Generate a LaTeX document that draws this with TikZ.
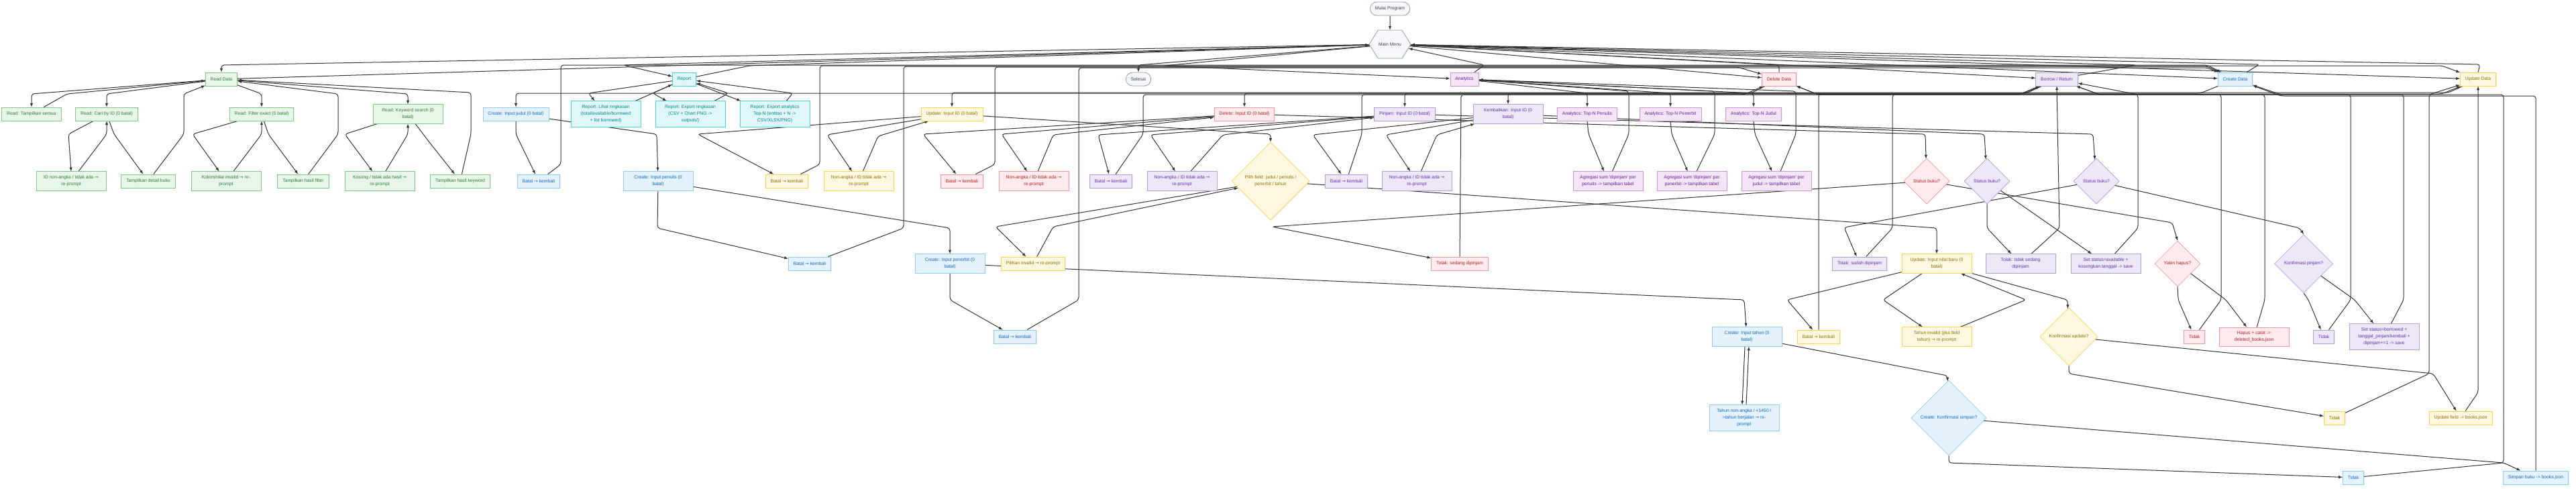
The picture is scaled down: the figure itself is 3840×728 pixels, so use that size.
\documentclass[tikz,border=0pt]{standalone}
\usepackage{fontspec}
\setmainfont{Liberation Sans}[Ligatures=TeXOff]
\newfontfamily\arrowfont{DejaVu Sans}
\usepackage{tikz}
\usetikzlibrary{arrows,shapes.geometric,shapes.symbols,shadows,backgrounds}

\definecolor{edgecol}{HTML}{333333}
\definecolor{grnfill}{HTML}{E8F5E9}\definecolor{grnline}{HTML}{81C784}\definecolor{grntext}{HTML}{2E7D32}
\definecolor{cynfill}{HTML}{E0F7FA}\definecolor{cynline}{HTML}{4DD0E1}\definecolor{cyntext}{HTML}{00838F}
\definecolor{blufill}{HTML}{E3F2FD}\definecolor{bluline}{HTML}{90CAF9}\definecolor{blutext}{HTML}{1565C0}
\definecolor{ylwfill}{HTML}{FFF8E1}\definecolor{ylwline}{HTML}{FFD54F}\definecolor{ylwtext}{HTML}{8D6E00}
\definecolor{redfill}{HTML}{FFEBEE}\definecolor{redline}{HTML}{EF9A9A}\definecolor{redtext}{HTML}{B71C1C}
\definecolor{prpfill}{HTML}{EDE7F6}\definecolor{prpline}{HTML}{B39DDB}\definecolor{prptext}{HTML}{5E35B1}
\definecolor{anafill}{HTML}{F3E5F5}\definecolor{analine}{HTML}{CE93D8}\definecolor{anatext}{HTML}{6A1B9A}
\definecolor{gryfill}{HTML}{F5F7FA}\definecolor{gryline}{HTML}{90A4AE}\definecolor{grytext}{HTML}{37474F}

\newcommand{\boxfont}{\fontsize{6.8}{10}\selectfont}
\newcommand{\toarr}{{\arrowfont →}}

\tikzset{
  box/.style={rectangle,draw,line width=0.8pt,font=\boxfont,align=center,
    inner xsep=7.5pt,inner ysep=6pt,minimum height=20pt,
    drop shadow={shadow xshift=1.2pt,shadow yshift=-1.2pt,opacity=0.12}},
  wide/.style={minimum width=104pt},
  choice/.style={diamond,aspect=1,draw,line width=0.6pt,font=\boxfont,align=center,
    inner sep=0pt,minimum width=#1,minimum height=#1,
    drop shadow={shadow xshift=1.2pt,shadow yshift=-1.2pt,opacity=0.12}},
  term/.style={box,rounded corners=10pt,fill=gryfill,draw=gryline,text=grytext},
  menu/.style={signal,signal to=west and east,signal pointer angle=116,draw,line width=0.8pt,
    fill=gryfill,draw=gryline,text=grytext,font=\boxfont,inner sep=0pt,
    minimum width=62pt,minimum height=42pt,
    drop shadow={shadow xshift=1.2pt,shadow yshift=-1.2pt,opacity=0.12}},
  readbox/.style={fill=grnfill,draw=grnline,text=grntext},
  repbox/.style={fill=cynfill,draw=cynline,text=cyntext},
  crbox/.style={fill=blufill,draw=bluline,text=blutext},
  upbox/.style={fill=ylwfill,draw=ylwline,text=ylwtext},
  delbox/.style={fill=redfill,draw=redline,text=redtext},
  borbox/.style={fill=prpfill,draw=prpline,text=prptext},
  anabox/.style={fill=anafill,draw=analine,text=anatext},
  flow/.style={draw=edgecol,line width=1pt,rounded corners=4pt}
}

\begin{document}
\begin{tikzpicture}[->,>=latex,x=1pt,y=-1pt]
  \useasboundingbox (0,0) rectangle (3840,728);
  \node[term] (start) at (2072,13) {Mulai Program};
  \node[menu] (mm) at (2072,66) {Main Menu};
  \node[term] (selesai) at (1697,118) {Selesai};

  \node[box,readbox] (read) at (330,118) {Read Data};
  \node[box,repbox] (report) at (1020,118) {Report};
  \node[box,anabox] (analytics) at (2183,118) {Analytics};
  \node[box,delbox] (delete) at (2652,118) {Delete Data};
  \node[box,borbox] (borrow) at (3066,118) {Borrow / Return};
  \node[box,crbox] (create) at (3332,118) {Create Data};
  \node[box,upbox] (update) at (3694,118) {Update Data};

  \node[box,readbox] (rAll) at (47,170) {Read: Tampilkan semua};
  \node[box,readbox] (rId) at (159,170) {Read: Cari by ID (0 batal)};
  \node[box,readbox] (rFilter) at (390,170) {Read: Filter exact (0 batal)};
  \node[box,readbox,wide] (rKey) at (608,170) {Read: Keyword search (0\\batal)};
  \node[box,crbox] (cJudul) at (769,170) {Create: Input judul (0 batal)};
  \node[box,repbox,wide] (repView) at (903,170) {Report: Lihat ringkasan\\(total/available/borrowed\\+ list borrowed)};
  \node[box,repbox,wide] (repExp) at (1029,170) {Report: Export ringkasan\\(CSV + Chart PNG ->\\outputs/)};
  \node[box,repbox,wide] (repAna) at (1155,170) {Report: Export analytics\\Top-N (entitas + N ->\\CSV/XLSX/PNG)};
  \node[box,upbox] (uId) at (1419,170) {Update: Input ID (0 batal)};
  \node[box,delbox] (dId) at (1855,170) {Delete: Input ID (0 batal)};
  \node[box,borbox] (bPinjam) at (2094,170) {Pinjam: Input ID (0 batal)};
  \node[box,borbox,wide] (bKembali) at (2248,170) {Kembalikan: Input ID (0\\batal)};
  \node[box,anabox] (aPenulis) at (2366,170) {Analytics: Top-N Penulis};
  \node[box,anabox] (aPenerbit) at (2490,170) {Analytics: Top-N Penerbit};
  \node[box,anabox] (aJudul) at (2614,170) {Analytics: Top-N Judul};

  \node[box,readbox,wide] (rIdErr) at (106,270) {ID non-angka / tidak ada \toarr\\re-prompt};
  \node[box,readbox] (rIdOk) at (221,270) {Tampilkan detail buku};
  \node[box,readbox,wide] (rFilterErr) at (337,270) {Kolom/nilai invalid \toarr{} re-\\prompt};
  \node[box,readbox] (rFilterOk) at (452,270) {Tampilkan hasil filter};
  \node[box,readbox,wide] (rKeyErr) at (566,270) {Kosong / tidak ada hasil \toarr\\re-prompt};
  \node[box,readbox] (rKeyOk) at (686,270) {Tampilkan hasil keyword};
  \node[box,crbox] (cJudulBatal) at (803,270) {Batal \toarr{} kembali};
  \node[box,crbox,wide] (cPenulis) at (981,270) {Create: Input penulis (0\\batal)};
  \node[box,upbox] (uBatal) at (1173,270) {Batal \toarr{} kembali};
  \node[box,upbox,wide] (uIdErr) at (1280,270) {Non-angka / ID tidak ada \toarr\\re-prompt};
  \node[box,delbox] (dBatal) at (1434,270) {Batal \toarr{} kembali};
  \node[box,delbox,wide] (dIdErr) at (1541,270) {Non-angka / ID tidak ada \toarr\\re-prompt};
  \node[box,borbox] (bPinjamBatal) at (1656,270) {Batal \toarr{} kembali};
  \node[box,borbox,wide] (bPinjamErr) at (1762,270) {Non-angka / ID tidak ada \toarr\\re-prompt};
  \node[choice=116pt,upbox] (uField) at (1894,270) {Pilih field: judul / penulis /\\penerbit / tahun};
  \node[box,borbox] (bKembaliBatal) at (2007,270) {Batal \toarr{} kembali};
  \node[box,borbox,wide] (bKembaliErr) at (2112,270) {Non-angka / ID tidak ada \toarr\\re-prompt};
  \node[box,anabox,wide] (aPenulisOut) at (2397,270) {Agregasi sum 'dipinjam' per\\penulis -> tampilkan tabel};
  \node[box,anabox,wide] (aPenerbitOut) at (2522,270) {Agregasi sum 'dipinjam' per\\penerbit -> tampilkan tabel};
  \node[box,anabox,wide] (aJudulOut) at (2648,270) {Agregasi sum 'dipinjam' per\\judul -> tampilkan tabel};
  \node[choice=68pt,delbox] (dStatus) at (2872,270) {Status buku?};
  \node[choice=68pt,borbox] (bKembaliStatus) at (2962,270) {Status buku?};
  \node[choice=68pt,borbox] (bPinjamStatus) at (3125,270) {Status buku?};

  \node[box,crbox] (cPenulisBatal) at (1207,393) {Batal \toarr{} kembali};
  \node[box,crbox,wide] (cPenerbit) at (1416,393) {Create: Input penerbit (0\\batal)};
  \node[box,upbox] (uFieldErr) at (1540,393) {Pilihan invalid \toarr{} re-prompt};
  \node[box,delbox] (dTolak) at (2176,393) {Tolak: sedang dipinjam};
  \node[box,borbox] (bPinjamTolak) at (2772,393) {Tolak: sudah dipinjam};
  \node[box,upbox,wide] (uNilai) at (2887,393) {Update: Input nilai baru (0\\batal)};
  \node[box,borbox,wide] (bKembaliTolak) at (3012,393) {Tolak: tidak sedang\\dipinjam};
  \node[box,borbox,wide] (bKembaliOk) at (3139,393) {Set status=available +\\kosongkan tanggal -> save};
  \node[choice=68pt,delbox] (dYakin) at (3246,393) {Yakin hapus?};
  \node[choice=87pt,borbox] (bPinjamConfirm) at (3434,393) {Konfirmasi pinjam?};

  \node[box,crbox] (cPenerbitBatal) at (1513,502) {Batal \toarr{} kembali};
  \node[box,crbox,wide] (cTahun) at (2604,502) {Create: Input tahun (0\\batal)};
  \node[box,upbox] (uNilaiBatal) at (2711,502) {Batal \toarr{} kembali};
  \node[box,upbox,wide] (uNilaiErr) at (2887,502) {Tahun invalid (jika field\\tahun) \toarr{} re-prompt};
  \node[choice=86pt,upbox] (uConfirm) at (3084,502) {Konfirmasi update?};
  \node[box,delbox] (dTidak) at (3271,502) {Tidak};
  \node[box,delbox,wide] (dOk) at (3360,502) {Hapus + catat ->\\deleted\_books.json};
  \node[box,borbox] (bPinjamTidak) at (3464,502) {Tidak};
  \node[box,borbox,wide] (bPinjamOk) at (3554,502) {Set status=borrowed +\\tanggal\_pinjam/kembali +\\dipinjam+=1 -> save};

  \node[box,crbox,wide] (cTahunErr) at (2600,623) {Tahun non-angka / <1450 /\\>tahun berjalan \toarr{} re-\\prompt};
  \node[choice=112pt,crbox] (cConfirm) at (2905,623) {Create: Konfirmasi simpan?};
  \node[box,upbox] (uTidak) at (3480,623) {Tidak};
  \node[box,upbox] (uOk) at (3668,623) {Update field -> books.json};

  \node[box,crbox] (cTidak) at (3508,712) {Tidak};
  \node[box,crbox] (cOk) at (3780,712) {Simpan buku -> books.json};

  \begin{scope}[on background layer]
    \fill[white] (0,0) rectangle (3840,728);
    \path (start) edge[flow] (mm)
      (read) edge[flow] (mm)
      (mm) edge[flow] (delete)
      (mm) edge[flow] (borrow)
      (mm) edge[flow] (create)
      (mm) edge[flow] (update)
      (repView) edge[flow] (report)
      (report) edge[flow] (repAna)
      (bKembaliStatus) edge[flow] (bKembaliOk);
    \draw[flow] (mm) -- (330,97) -- (read);
    \draw[flow] (mm) -- (929,97) -- (report);
    \draw[flow] (report) -- (1117,98) -- (mm);
    \draw[flow] (mm) -- (1697,97) -- (selesai);
    \draw[flow] (mm) -- (1735,98) -- (analytics);
    \draw[flow] (analytics) -- (2213,97) -- (mm);
    \draw[flow] (delete.north) -- (2652,97) -- (mm);
    \draw[flow] (borrow) -- (3184,97) -- (mm);
    \draw[flow] (create) -- (3368,96) -- (mm);
    \draw[flow] (update.north) -- (3697,96) -- (mm);

    \draw[flow] (read) -- (47,140) -- (rAll);
    \draw[flow] (rAll) -- (100,140) -- (read);
    \draw[flow] (read) -- (159,140) -- (rId);
    \draw[flow] (rId) -- (102,200) -- (rIdErr.north);
    \draw[flow] (rIdErr) -- (159,200) -- (rId.south);
    \draw[flow] (rId) -- (170,200) -- (rIdOk);
    \draw[flow] (rIdOk) -- (274,200) -- (274,140) -- (read);
    \draw[flow] (read) -- (390,140) -- (rFilter);
    \draw[flow] (rFilter) -- (287,200) -- (rFilterErr);
    \draw[flow] (rFilterErr) -- (390,200) -- (rFilter.south);
    \draw[flow] (rFilter) -- (400,200) -- (rFilterOk);
    \draw[flow] (rFilterOk) -- (504,200) -- (504,140) -- (read);
    \draw[flow] (read) -- (608,140) -- (rKey);
    \draw[flow] (rKey) -- (514,200) -- (rKeyErr);
    \draw[flow] (rKeyErr) -- (608,200) -- (rKey.south);
    \draw[flow] (rKey) -- (640,212) -- (rKeyOk);
    \draw[flow] (rKeyOk) -- (702,200) -- (702,138) -- (read);

    \draw[flow] (report) -- (877,139) -- (repView);
    \draw[flow] (report) -- (973,139) -- (repExp);
    \draw[flow] (repExp) -- (1086,139) -- (report);
    \draw[flow] (repAna) -- (1182,139) -- (report);

    \draw[flow] (create) -- (3280,139) -- (769,139) -- (cJudul);
    \draw[flow] (cJudul) -- (769,200) -- (cJudulBatal);
    \draw[flow] (cJudulBatal) -- (836,245) -- (836,97) -- (3290,97) -- (create);
    \draw[flow] (cJudul) -- (979,200) -- (cPenulis);
    \draw[flow] (cPenulis) -- (980,340) -- (cPenulisBatal);
    \draw[flow] (cPenulisBatal) -- (1347,340) -- (1347,99) -- (3290,99) -- (create);
    \draw[flow] (cPenulis) -- (1416,340) -- (cPenerbit);
    \draw[flow] (cPenerbit) -- (1416,447) -- (cPenerbitBatal);
    \draw[flow] (cPenerbitBatal) -- (1608,447) -- (1608,101) -- (3290,101) -- (create);
    \draw[flow] (cPenerbit) -- (2600,447) -- (cTahun);
    \draw[flow] ([xshift=-3pt]cTahun.south) -- ([xshift=-3pt]cTahunErr.north);
    \draw[flow] ([xshift=3pt]cTahunErr.north) -- ([xshift=3pt]cTahun.south);
    \draw[flow] (cTahun) -- (2903,560) -- (cConfirm);
    \draw[flow] (cConfirm) -- (3732,690) -- (cOk);
    \draw[flow] (cConfirm.south) -- (2905,690) -- (cTidak);
    \draw[flow] (cTidak) -- (3732,690) -- (3732,141) -- (3400,141) -- (create);
    \draw[flow] (cOk.north) -- (3780,143) -- (3400,143) -- (create);

    \draw[flow] (update) -- (3650,138) -- (1419,138) -- (uId);
    \draw[flow] (uId) -- (1040,200) -- (uBatal);
    \draw[flow] (uBatal) -- (1222,245) -- (1222,98) -- (3640,98) -- (update);
    \draw[flow] (uId) -- (1233,201) -- (uIdErr);
    \draw[flow] (uIdErr) -- (1309,203) -- (uId);
    \draw[flow] (uId) -- (1894,200) -- (uField);
    \draw[flow] (uField) -- (1484,338) -- (uFieldErr);
    \draw[flow] (uFieldErr) -- (1570,338) -- (uField);
    \draw[flow] (uField) -- (2887,340) -- (uNilai);
    \draw[flow] (uNilai) -- (2664,447) -- (uNilaiBatal);
    \draw[flow] (uNilaiBatal.north) -- (2711,140) -- (3640,140) -- (update);
    \draw[flow] (uNilai) -- (2807,447) -- (uNilaiErr);
    \draw[flow] (uNilaiErr) -- (3020,447) -- (uNilai);
    \draw[flow] (uNilai) -- (3082,447) -- (uConfirm);
    \draw[flow] (uConfirm) -- (3627,557) -- (uOk);
    \draw[flow] (uConfirm.south) -- (3084,557) -- (uTidak);
    \draw[flow] (uTidak) -- (3621,557) -- (3621,141) -- (update);
    \draw[flow] (uOk) -- (3694,585) -- (update.south);

    \draw[flow] (delete) -- (2610,139) -- (1855,139) -- (dId);
    \draw[flow] (dId) -- (1376,200) -- (dBatal);
    \draw[flow] (dBatal) -- (1483,245) -- (1483,100) -- (2590,100) -- (delete);
    \draw[flow] (dId) -- (1493,200) -- (dIdErr);
    \draw[flow] (dIdErr) -- (1570,201) -- (dId);
    \draw[flow] (dId) -- (2870,200) -- (dStatus);
    \draw[flow] (dStatus) -- (1896,338) -- (dTolak);
    \draw[flow] (dTolak.north) -- (2178,141) -- (2600,141) -- (delete);
    \draw[flow] (dStatus) -- (3238,332) -- (dYakin.north);
    \draw[flow] (dYakin.south) -- (3247,447) -- (dTidak);
    \draw[flow] (dYakin) -- (3318,447) -- (dOk);
    \draw[flow] (dTidak) -- (3311,447) -- (3311,141) -- (2710,141) -- (delete);
    \draw[flow] (dOk) -- (3376,447) -- (3376,141) -- (2710,141) -- (delete);

    \draw[flow] (borrow) -- (3020,139) -- (2094,139) -- (bPinjam);
    \draw[flow] (borrow) -- (3020,139) -- (2248,139) -- (bKembali);
    \draw[flow] (bPinjam) -- (1637,201) -- (bPinjamBatal);
    \draw[flow] (bPinjamBatal) -- (1704,200) -- (1704,141) -- (3010,141) -- (borrow);
    \draw[flow] (bPinjam) -- (1715,201) -- (bPinjamErr);
    \draw[flow] (bPinjamErr) -- (1823,201) -- (bPinjam);
    \draw[flow] (bPinjam) -- (3120,200) -- (bPinjamStatus);
    \draw[flow] (bKembali) -- (1957,201) -- (bKembaliBatal);
    \draw[flow] (bKembaliBatal) -- (2030,200) -- (2030,141) -- (3010,141) -- (borrow);
    \draw[flow] (bKembali) -- (2066,201) -- (bKembaliErr);
    \draw[flow] (bKembaliErr) -- (2142,201) -- (bKembali);
    \draw[flow] (bKembali) -- (2958,200) -- (bKembaliStatus);
    \draw[flow] (bKembaliStatus.south) -- (2962,340) -- (bKembaliTolak);
    \draw[flow] (bKembaliTolak) -- (3070,340) -- (borrow.south);
    \draw[flow] (bKembaliOk) -- (3187,340) -- (3187,141) -- (borrow);
    \draw[flow] (bPinjamStatus) -- (2749,339) -- (bPinjamTolak);
    \draw[flow] (bPinjamTolak) -- (2821,340) -- (2821,141) -- (3010,141) -- (borrow);
    \draw[flow] (bPinjamStatus) -- (3428,340) -- (bPinjamConfirm.north);
    \draw[flow] (bPinjamConfirm.south) -- (3441,447) -- (bPinjamTidak);
    \draw[flow] (bPinjamConfirm) -- (3510,447) -- (bPinjamOk);
    \draw[flow] (bPinjamTidak) -- (3504,447) -- (3504,141) -- (3130,141) -- (borrow);
    \draw[flow] (bPinjamOk) -- (3583,447) -- (3583,141) -- (3130,141) -- (borrow);

    \draw[flow] (analytics) -- (2366,139) -- (aPenulis);
    \draw[flow] (analytics) -- (2490,139) -- (aPenerbit);
    \draw[flow] (analytics) -- (2614,139) -- (aJudul);
    \draw[flow] (aPenulis.south) -- (2368,200) -- (aPenulisOut);
    \draw[flow] (aPenulisOut) -- (2428,200) -- (2428,136) -- (analytics);
    \draw[flow] (aPenerbit.south) -- (2492,200) -- (aPenerbitOut);
    \draw[flow] (aPenerbitOut) -- (2556,200) -- (2556,136) -- (analytics);
    \draw[flow] (aJudul.south) -- (2616,200) -- (aJudulOut);
    \draw[flow] (aJudulOut) -- (2677,200) -- (2677,136) -- (analytics);
  \end{scope}
\end{tikzpicture}
\end{document}
